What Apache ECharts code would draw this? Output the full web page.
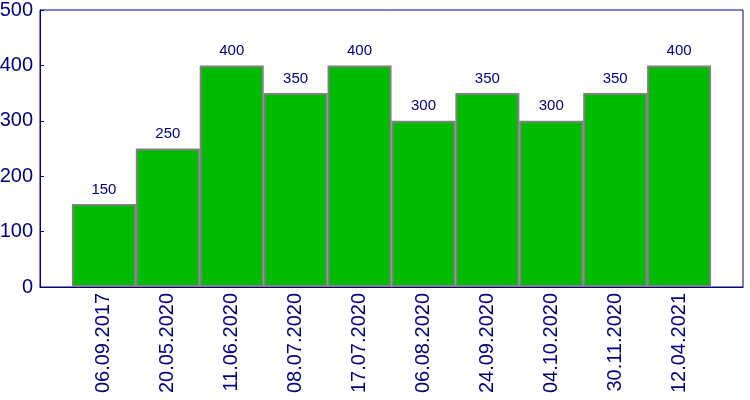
<!DOCTYPE html>
<html>
<head>
<meta charset="utf-8">
<script src="https://cdn.jsdelivr.net/npm/echarts@6/dist/echarts.min.js"></script>
<style>
    html, body { margin: 0; padding: 0; background: #fff; }
    #chart { width: 750px; height: 400px; }
</style>
</head>
<body>
<div id="chart"></div>
<script>
var dates = ['06.09.2017', '20.05.2020', '11.06.2020', '08.07.2020', '17.07.2020',
    '06.08.2020', '24.09.2020', '04.10.2020', '30.11.2020', '12.04.2021'];
var counts = [150, 250, 400, 350, 400, 300, 350, 300, 350, 400];
var yTicks = [0, 100, 200, 300, 400, 500];

var navy = '#000080';

// pad with an empty slot on each side so the bars sit half a band in from the frame
var cats = [''].concat(dates, ['']);
var vals = ['-'].concat(counts, ['-']);

var myChart = echarts.init(document.getElementById('chart'));
myChart.setOption({
    animation: false,
    grid: {
        left: 40, top: 10, right: 7, bottom: 113,
        outerBoundsMode: 'none',
        show: true, borderColor: navy, borderWidth: 1, backgroundColor: '#fff'
    },
    xAxis: {
        type: 'category',
        data: cats,
        boundaryGap: false,
        axisLine: { lineStyle: { color: navy, width: 1 } },
        axisTick: { show: false },
        axisLabel: {
            rotate: 90, margin: 6, interval: 0,
            color: navy, fontSize: 20, fontFamily: 'Liberation Sans, Arial'
        },
        splitLine: { show: false }
    },
    yAxis: {
        type: 'value',
        min: yTicks[0],
        max: yTicks[yTicks.length - 1],
        interval: 100,
        axisLine: { show: true, lineStyle: { color: navy, width: 1 } },
        axisTick: { show: true, inside: true, length: 4, lineStyle: { color: navy } },
        axisLabel: {
            margin: 7, color: navy, fontSize: 20, fontFamily: 'Liberation Sans, Arial'
        },
        splitLine: { show: false }
    },
    series: [{
        type: 'bar',
        data: vals,
        barWidth: 64,
        itemStyle: { color: '#00bb00', borderColor: '#808080', borderWidth: 2 },
        label: {
            show: true, position: 'top', distance: 7,
            color: navy, fontSize: 15, fontFamily: 'Liberation Sans, Arial'
        }
    }]
});
</script>
</body>
</html>
